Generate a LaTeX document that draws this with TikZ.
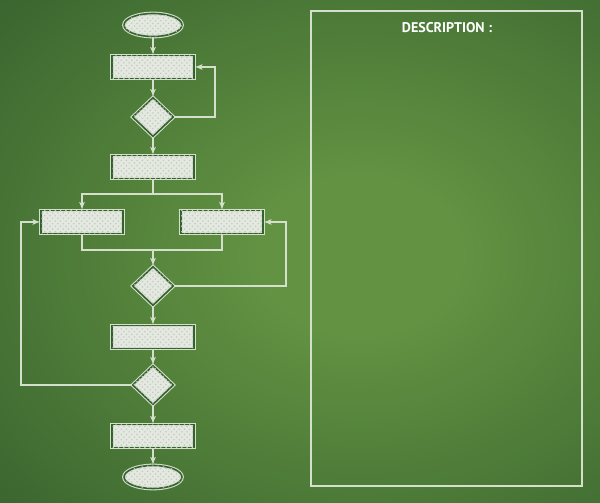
\documentclass[tikz,border=0pt]{standalone}
\usepackage{fontspec}
\newfontfamily\descfont{PT Sans}
\usetikzlibrary{arrows}
\usetikzlibrary{positioning}
\usetikzlibrary{shapes.geometric}
\usetikzlibrary{patterns}
\definecolor{bdark}{RGB}{42,84,40}
\definecolor{blight}{RGB}{98,146,66}
\definecolor{bmid}{RGB}{52,96,46}
\definecolor{chalk}{RGB}{228,233,224}
\definecolor{chalkline}{RGB}{212,224,204}
\pgfdeclareradialshading{board}{\pgfpoint{0bp}{0bp}}{color(0bp)=(blight); color(6bp)=(blight); color(38bp)=(bdark); color(72bp)=(bdark)}
\tikzset{chalkbox/.style = {rectangle, draw=chalkline, line width=0.6pt,
                            double=bmid, double distance=0.9pt, fill=chalk,
                            postaction={pattern=crosshatch dots, pattern color=black!22},
                            minimum width=1.64cm, minimum height=0.46cm, inner sep=0pt},
         chalkdiamond/.style = {chalkbox, diamond, minimum width=0.82cm, minimum height=0.78cm},
         chalkoval/.style = {chalkbox, ellipse, minimum width=1.16cm, minimum height=0.46cm},
         flow/.style = {draw=chalkline, line width=0.6pt, >=latex'}}

\begin{document}
\begin{tikzpicture}[x=0.02cm, y=-0.02cm]
      \useasboundingbox (0, 0) rectangle (600, 503);
      \begin{scope}
        \clip (0, 0) rectangle (600, 503);
        \shade [shading=board] (-60, -75) rectangle (780, 585);
      \end{scope}

      \node [chalkoval] (start) at (153, 25) {};
      \node [chalkbox] (b1) at (153, 67) {};
      \node [chalkdiamond] (d1) at (153, 117) {};
      \node [chalkbox] (b2) at (153, 167) {};
      \node [chalkbox] (b3) at (82, 222) {};
      \node [chalkbox] (b4) at (222, 222) {};
      \node [chalkdiamond] (d2) at (153, 286) {};
      \node [chalkbox] (b5) at (153, 337) {};
      \node [chalkdiamond] (d3) at (153, 385) {};
      \node [chalkbox] (b6) at (153, 436) {};
      \node [chalkoval] (stop) at (153, 477) {};

      \coordinate (split) at (153, 194);
      \coordinate (merge) at (153, 250);

      \draw [flow, ->] (start) -- (b1);
      \draw [flow, ->] (b1) -- (d1);
      \draw [flow, ->] (d1) -- (b2);
      \draw [flow, ->] (d1.east) -- ++(41, 0) |- (b1.east);

      \draw [flow] (b2.south) -- (split);
      \draw [flow, ->] (split) -| (b3.north);
      \draw [flow, ->] (split) -| (b4.north);

      \draw [flow] (b3.south) |- (merge) -| (b4.south);
      \draw [flow, ->] (merge) -- (d2.north);

      \draw [flow, ->] (d2) -- (b5);
      \draw [flow, ->] (b5) -- (d3);
      \draw [flow, ->] (d3) -- (b6);
      \draw [flow, ->] (b6) -- (stop);

      \draw [flow, ->] (d2.east) -- ++(112, 0) |- (b4.east);
      \draw [flow, ->] (d3.west) -- ++(-111, 0) |- (b3.west);

      \node [draw=chalkline, line width=1.1pt, minimum width=5.42cm, minimum height=9.5cm, inner sep=0pt] (descbox) at (446.5, 248.5) {};
      \node [text=white, font=\descfont\bfseries\fontsize{8}{9}\selectfont] (desctitle) at (447, 28) {DESCRIPTION :};
    \end{tikzpicture}
\end{document}
